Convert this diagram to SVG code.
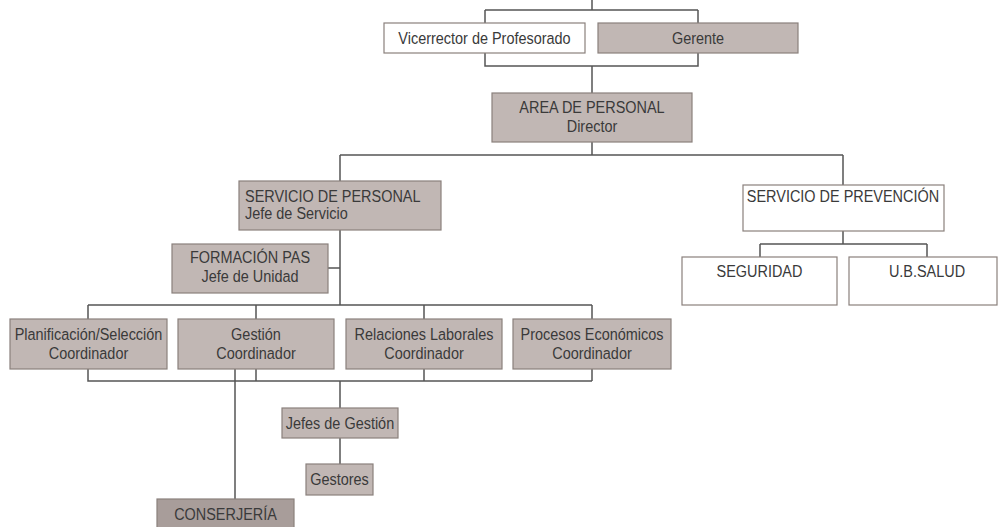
<svg xmlns="http://www.w3.org/2000/svg" width="998" height="527" viewBox="0 0 998 527">
<style>
.g{fill:#c1b7b4;stroke:#8a807c;stroke-width:1.2}
.d{fill:#a89d9a;stroke:#8a807c;stroke-width:1.2}
.w{fill:#ffffff;stroke:#8a807c;stroke-width:1.2}
.c{fill:none;stroke:#555555;stroke-width:1.5}
text{font-family:"Liberation Sans",Arial,sans-serif;font-size:17px;fill:#3a3a3a}
.m{text-anchor:middle}
</style>
<rect width="998" height="527" fill="#ffffff"/>
<g id="connectors">
<path class="c" d="M592 0V10M485 10H698M485 10V23M698 10V23M485 53V66H698V53M592 66V93M592 142V155M340 155H843M340 155V181M843 155V185"/>
<path class="c" d="M340 230V305M328 268H340M88 305H592M88 305V319M256 305V319M424 305V319M592 305V319"/>
<path class="c" d="M88 369V381H592M256 369V381M424 369V381M592 369V381M235 369V499M340 381V408M340 438V464"/>
<path class="c" d="M843 231V244M760 244H927M760 244V257M927 244V257"/>
</g>
<g id="vicerrector"><rect class="w" x="384" y="23" width="201" height="30"/><text class="m" transform="translate(484.5 43.5) scale(.85 1)">Vicerrector de Profesorado</text></g>
<g id="gerente"><rect class="g" x="598" y="23" width="200" height="30"/><text class="m" transform="translate(698 43.5) scale(.85 1)">Gerente</text></g>
<g id="area"><rect class="g" x="492" y="93" width="200" height="49"/><text class="m" transform="translate(592 112.5) scale(.85 1)">AREA DE PERSONAL</text><text class="m" transform="translate(592 131.5) scale(.85 1)">Director</text></g>
<g id="servicio-personal"><rect class="g" x="239" y="181" width="202" height="49"/><text transform="translate(245 201.5) scale(.85 1)">SERVICIO DE PERSONAL</text><text transform="translate(245 218.5) scale(.85 1)">Jefe de Servicio</text></g>
<g id="formacion"><rect class="g" x="172" y="244" width="156" height="49"/><text class="m" transform="translate(250 263) scale(.85 1)">FORMACIÓN PAS</text><text class="m" transform="translate(250 281.5) scale(.85 1)">Jefe de Unidad</text></g>
<g id="servicio-prevencion"><rect class="w" x="743" y="185" width="201" height="46"/><text class="m" transform="translate(843 201.5) scale(.85 1)">SERVICIO DE PREVENCIÓN</text></g>
<g id="seguridad"><rect class="w" x="682" y="257" width="155" height="48"/><text class="m" transform="translate(759.5 276.5) scale(.85 1)">SEGURIDAD</text></g>
<g id="ubsalud"><rect class="w" x="849" y="257" width="148" height="48"/><text class="m" transform="translate(927 276.5) scale(.85 1)">U.B.SALUD</text></g>
<g id="planificacion"><rect class="g" x="10" y="319" width="157" height="50"/><text class="m" transform="translate(88.5 340) scale(.85 1)">Planificación/Selección</text><text class="m" transform="translate(88.5 358.5) scale(.85 1)">Coordinador</text></g>
<g id="gestion"><rect class="g" x="178" y="319" width="156" height="50"/><text class="m" transform="translate(256 340) scale(.85 1)">Gestión</text><text class="m" transform="translate(256 358.5) scale(.85 1)">Coordinador</text></g>
<g id="relaciones"><rect class="g" x="346" y="319" width="156" height="50"/><text class="m" transform="translate(424 340) scale(.85 1)">Relaciones Laborales</text><text class="m" transform="translate(424 358.5) scale(.85 1)">Coordinador</text></g>
<g id="procesos"><rect class="g" x="513" y="319" width="158" height="50"/><text class="m" transform="translate(592 340) scale(.85 1)">Procesos Económicos</text><text class="m" transform="translate(592 358.5) scale(.85 1)">Coordinador</text></g>
<g id="jefes-gestion"><rect class="g" x="282" y="408" width="116" height="30"/><text class="m" transform="translate(340 428.5) scale(.85 1)">Jefes de Gestión</text></g>
<g id="gestores"><rect class="g" x="306" y="464" width="67" height="31"/><text class="m" transform="translate(339.5 484.5) scale(.85 1)">Gestores</text></g>
<g id="conserjeria"><rect class="d" x="157" y="499" width="137" height="34"/><text class="m" transform="translate(225.5 520) scale(.85 1)">CONSERJERÍA</text></g>
</svg>
